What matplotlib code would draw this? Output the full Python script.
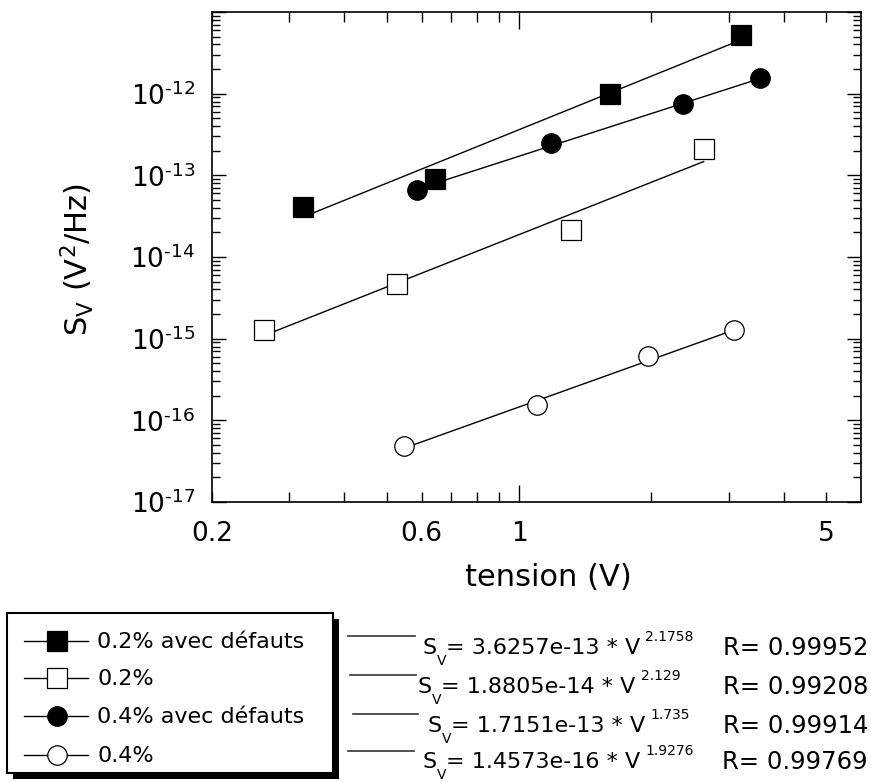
import numpy as np
import matplotlib
matplotlib.use("Agg")
import matplotlib.pyplot as plt
from matplotlib.ticker import FixedLocator, NullFormatter
from matplotlib.patches import Rectangle

plt.rcParams["font.family"] = ["DejaVu Sans"]

# data
sq_fill_v = [0.323, 0.645, 1.61, 3.2]
sq_fill_s = [4.1e-14, 9.0e-14, 9.9e-13, 5.2e-12]
sq_open_v = [0.263, 0.526, 1.31, 2.63]
sq_open_s = [1.28e-15, 4.67e-15, 2.14e-14, 2.1e-13]
ci_fill_v = [0.587, 1.18, 2.36, 3.53]
ci_fill_s = [6.6e-14, 2.49e-13, 7.5e-13, 1.55e-12]
ci_open_v = [0.548, 1.096, 1.97, 3.08]
ci_open_s = [4.85e-17, 1.54e-16, 6.1e-16, 1.28e-15]

labels = ["0.2% avec défauts", "0.2%", "0.4% avec défauts", "0.4%"]
fit_a = [3.6257e-13, 1.8805e-14, 1.7151e-13, 1.4573e-16]
fit_b = [2.1758, 2.129, 1.735, 1.9276]
fit_a_txt = ["3.6257e-13", "1.8805e-14", "1.7151e-13", "1.4573e-16"]
fit_b_txt = ["2.1758", "2.129", "1.735", "1.9276"]
fit_r_txt = ["0.99952", "0.99208", "0.99914", "0.99769"]

xticks = [0.2, 0.6, 1, 5]
xtick_labels = ["0.2", "0.6", "1", "5"]
xminor = [0.3, 0.4, 0.5, 0.7, 0.8, 0.9, 2, 3, 4]

series = [
    (sq_fill_v, sq_fill_s, "s", "black"),
    (sq_open_v, sq_open_s, "s", "white"),
    (ci_fill_v, ci_fill_s, "o", "black"),
    (ci_open_v, ci_open_s, "o", "white"),
]

W, H = 871, 782
fig = plt.figure(figsize=(W / 100, H / 100), dpi=100)
ax = fig.add_axes([212 / W, 1 - 502 / H, (861 - 212) / W, (502 - 12) / H])

for (v, s, m, fc), a, b in zip(series, fit_a, fit_b):
    v0, v1 = min(v), max(v)
    ax.plot([v0, v1], [a * v0 ** b, a * v1 ** b], color="black", lw=1.0, zorder=2)
    ms = 15 if m == "s" else 14
    ax.plot(v, s, ls="none", marker=m, ms=ms, mfc=fc, mec="black", mew=0.9, zorder=3)

ax.set_xscale("log")
ax.set_yscale("log")
ax.set_xlim(0.2, 6)
ax.set_ylim(1e-17, 1e-11)

ax.xaxis.set_major_locator(FixedLocator(xticks))
ax.set_xticklabels(xtick_labels)
ax.xaxis.set_minor_locator(FixedLocator(xminor))
ax.xaxis.set_minor_formatter(NullFormatter())

ydec = [1e-17, 1e-16, 1e-15, 1e-14, 1e-13, 1e-12, 1e-11]
ax.yaxis.set_major_locator(FixedLocator(ydec))
ax.set_yticklabels([r"$\mathregular{10^{\text{-}%d}}$" % -e for e in range(-17, -11)] + [""])
yminor = [k * d for d in ydec[:-1] for k in range(2, 10)]
ax.yaxis.set_minor_locator(FixedLocator(yminor))
ax.yaxis.set_minor_formatter(NullFormatter())

ax.tick_params(which="both", direction="in", top=True, right=True, width=1.0)
ax.tick_params(axis="x", which="both", length=7, labelsize=19, pad=14)
ax.tick_params(axis="y", which="major", length=10, labelsize=19, pad=12)
ax.tick_params(axis="y", which="minor", length=6)
for t in ax.xaxis.get_major_ticks():
    if t.get_loc() == 1:
        t.tick1line.set_markersize(12)
        t.tick2line.set_markersize(12)
for sp in ax.spines.values():
    sp.set_linewidth(1.2)

ax.set_xlabel("tension (V)", fontsize=22)
ax.xaxis.label.set_va("center")
ax.xaxis.set_label_coords((548 - 212) / 649, (502 - 577) / 490)
ax.set_ylabel(r"$\mathregular{S_V\ (V^2/Hz)}$", fontsize=22)
ax.yaxis.label.set_va("center")
ax.yaxis.set_label_coords((77 - 212) / 649, (502 - 260) / 490)

# legend area drawn in pixel coordinates
lax = fig.add_axes([0, 0, 1, 1], zorder=5)
lax.set_xlim(0, W)
lax.set_ylim(H, 0)
lax.axis("off")
lax.patch.set_visible(False)

lax.add_patch(Rectangle((13, 619), 326, 160, fc="black", ec="none"))
lax.add_patch(Rectangle((7, 613), 326, 160, fc="white", ec="black", lw=1.5))

rows = [641, 678, 716, 755]
for (v, s, m, fc), lab, y in zip(series, labels, rows):
    lax.plot([24, 88], [y, y], color="black", lw=1.0)
    lax.plot([57], [y], marker=m, ms=14, mfc=fc, mec="black", mew=0.9, ls="none")
    lax.text(97, y + 1, lab, fontsize=16, va="center", ha="left")

renderer = fig.canvas.get_renderer()
line_y = [636, 675, 714, 751]
line_x = [(348, 415), (350, 416), (353, 418), (348, 414)]
eq_y = [648, 687, 726, 762]
eq_x = [422, 417, 427, 422]
for i in range(4):
    x0, x1 = line_x[i]
    lax.plot([x0, x1], [line_y[i], line_y[i]], color="#333333", lw=1.2)
    x, y = eq_x[i], eq_y[i]
    t = lax.text(x, y, "S", fontsize=16, va="center", ha="left")
    w = t.get_window_extent(renderer).width
    lax.text(x + w + 1, y + 13, "V", fontsize=10, va="center", ha="left")
    t = lax.text(x + w + 10, y, "= %s * V" % fit_a_txt[i], fontsize=16, va="center", ha="left")
    bb = t.get_window_extent(renderer)
    lax.text(bb.x1 + 5, y - 11, fit_b_txt[i], fontsize=10, va="center", ha="left")
    lax.text(868, y, "R= %s" % fit_r_txt[i], fontsize=17.5, va="center", ha="right")

fig.savefig("out.png", dpi=100)
